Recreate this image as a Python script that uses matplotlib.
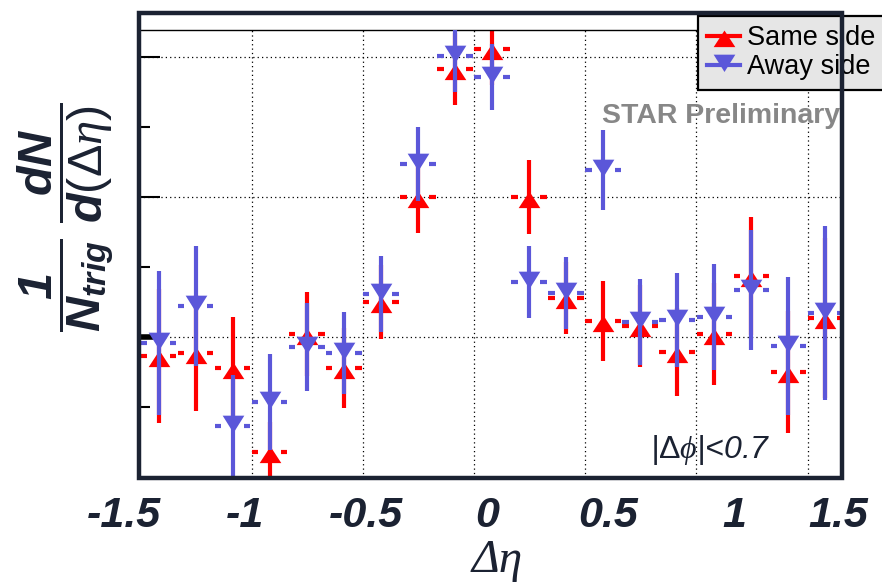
import numpy as np
import matplotlib
matplotlib.use('Agg')
import matplotlib.pyplot as plt
from matplotlib.path import Path
from matplotlib.patches import Rectangle
from matplotlib.lines import Line2D

plt.rcParams['font.family'] = ['Liberation Sans', 'DejaVu Sans']
plt.rcParams['mathtext.fontset'] = 'custom'
plt.rcParams['mathtext.rm'] = 'Liberation Sans'
plt.rcParams['mathtext.bf'] = 'Liberation Sans:bold:italic'
plt.rcParams['mathtext.it'] = 'Liberation Serif:italic'

# bin centres in delta eta
deta = [-1.35, -1.2, -1.05, -0.9, -0.75, -0.6, -0.45, -0.3, -0.15, 0.0,
        0.15, 0.3, 0.45, 0.6, 0.75, 0.9, 1.05, 1.2, 1.35]

# same side (red)
same_y = [0.864, 0.886, 0.779, 0.179, 1.021, 0.779, 1.25, 2.0, 2.914, 3.057,
          2.0, 1.279, 1.114, 1.079, 0.893, 1.021, 1.436, 0.75, 1.136]
same_err = [0.479, 0.414, 0.364, 0.214, 0.30, 0.286, 0.264, 0.257, 0.257, 0.257,
            0.264, 0.257, 0.286, 0.293, 0.314, 0.364, 0.421, 0.436, 0.571]

# away side (blue)
away_y = [0.957, 1.221, 0.364, 0.536, 0.929, 0.886, 1.307, 2.236, 3.007, 2.857,
          1.393, 1.314, 2.193, 1.107, 1.121, 1.143, 1.336, 0.936, 1.171]
away_err = [0.514, 0.429, 0.364, 0.343, 0.314, 0.293, 0.271, 0.264, 0.257, 0.236,
            0.257, 0.257, 0.286, 0.307, 0.336, 0.379, 0.429, 0.493, 0.621]

xtick_vals = ['-1.5', '-1', '-0.5', '0', '0.5', '1', '1.5']
xtick_pos = [-1.49, -1.0, -0.51, -0.02, 0.47, 0.98, 1.40]
grid_x = [-0.972, -0.522, -0.073, 0.377, 0.826, 1.279]

RED = '#ff0000'
BLUE = '#5b57d9'
DARK = '#1b2232'
half = 0.072
gap = 0.046

tri_up = Path([(0, 0.55), (-1, -0.98), (1, -0.98), (0, 0.55)],
              [Path.MOVETO, Path.LINETO, Path.LINETO, Path.CLOSEPOLY])
tri_down = Path([(0, -0.6), (-1, 1.0), (1, 1.0), (0, -0.6)],
                [Path.MOVETO, Path.LINETO, Path.LINETO, Path.CLOSEPOLY])

fig = plt.figure(figsize=(8.82, 5.82), dpi=100)
ax = fig.add_axes([139/882, 104/582, 703/882, 448/582])
ax.set_xlim(-1.429, 1.417)
ax.set_ylim(-0.007, 3.193)


def draw(x, y, err, color, marker, z):
    x = np.array(x)
    y = np.array(y)
    err = np.array(err)
    ax.vlines(x, y - err, y + err, color=color, lw=3, zorder=z)
    ax.hlines(y, x - half, x - gap, color=color, lw=3, zorder=z)
    ax.hlines(y, x + gap, x + half, color=color, lw=3, zorder=z)
    ax.plot(x, y, ls='none', marker=marker, ms=15.6, mfc=color, mec=color,
            mew=0, zorder=z + 0.5)


draw(deta, same_y, same_err, RED, tri_up, 2)
draw(deta, away_y, away_err, BLUE, tri_down, 3)

ax.set_yticks([1, 2, 3])
ax.set_yticks([0.5, 1.5, 2.5], minor=True)
ax.set_xticks(grid_x)
ax.tick_params(axis='x', length=0, labelbottom=False)
ax.tick_params(axis='y', which='major', direction='in', length=15, width=1.5,
               color='black', labelleft=False)
ax.tick_params(axis='y', which='minor', direction='in', length=8, width=1.5,
               color='black')
ax.yaxis.get_major_ticks()[0].tick1line.set_markeredgewidth(4)
ax.grid(True, which='major', color='black', lw=0.9, ls=(0, (1, 2.5)))
ax.set_axisbelow(True)
for s in ['left', 'right', 'bottom']:
    ax.spines[s].set_visible(False)
ax.spines['top'].set_linewidth(1.0)
ax.spines['top'].set_color('black')

for lab, p in zip(xtick_vals, xtick_pos):
    ax.text(p, -0.109, lab, transform=ax.get_xaxis_transform(), ha='center',
            va='baseline', fontsize=31, fontweight='bold', fontstyle='italic',
            color=DARK, clip_on=False)

fig.text(497/882, 1 - 572/582, 'Δη', ha='center', va='baseline', fontsize=34,
         fontstyle='italic', family=['Liberation Serif', 'DejaVu Serif'], color=DARK)

fig.text(66/882, 1 - 217/582,
         r'$\dfrac{\mathbf{1}}{\mathbf{N}_{\mathbf{trig}}}\ \dfrac{\mathbf{dN}}{\mathbf{d}(\Delta\eta)}$',
         rotation=90, ha='center', va='center', fontsize=35, color=DARK)

fig.text(602/882, 1 - 116/582, 'STAR Preliminary', ha='left', va='center',
         fontsize=20.5, fontweight='bold', color='#878787')

fig.text(650/882, 1 - 458/582, r'|$\Delta\phi$|<0.7', ha='left', va='baseline',
         fontsize=23, fontstyle='italic', color=DARK)

handles = [Line2D([0], [0], color=RED, lw=3, marker=tri_up, ms=15.6, mew=0),
           Line2D([0], [0], color=BLUE, lw=3, marker=tri_down, ms=15.6, mew=0)]
leg = ax.legend(handles, ['Same side', 'Away side'], loc='upper left',
                bbox_to_anchor=(698/882, 1 - 16/582), bbox_transform=fig.transFigure,
                fontsize=19.5, frameon=True, fancybox=False, edgecolor='black',
                facecolor='#e6e6e6', framealpha=1, borderpad=0.35,
                labelspacing=0.1, handlelength=1.2, handletextpad=0.25,
                borderaxespad=0)
leg.get_frame().set_linewidth(1.6)

# outer frame (pad border)
fig.add_artist(Rectangle((139/882, 104/582), 703/882, 465/582,
                         transform=fig.transFigure, fill=False,
                         edgecolor=DARK, lw=3.2, zorder=10))

fig.savefig('out.png', dpi=100)
